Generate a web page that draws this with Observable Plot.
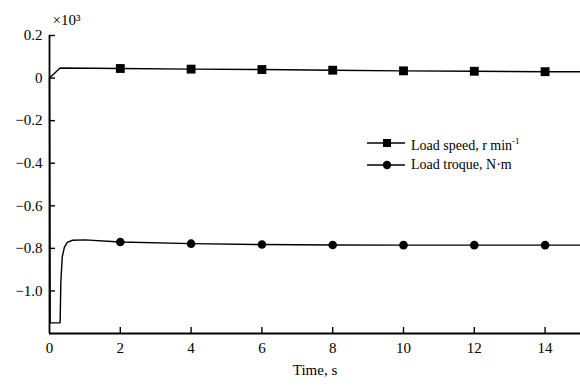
<!DOCTYPE html>
<html>
<head>
<meta charset="utf-8">
<script src="https://cdn.jsdelivr.net/npm/d3@7"></script>
<script src="https://cdn.jsdelivr.net/npm/@observablehq/plot@0.6"></script>
<style>
  body { margin: 0; background: #fff; }
  #chart { position: relative; width: 580px; height: 387px; font-family: "Liberation Serif", "DejaVu Serif", serif; color: #000; }
  #chart svg text { font-family: "Liberation Serif", "DejaVu Serif", serif; }
  #legend { position: absolute; left: 366px; top: 132px; font-size: 14px; line-height: 22px; }
  #legend .row { display: flex; align-items: center; height: 22px; }
  #legend svg { margin-right: 5px; }
  #legend sup { font-size: 9px; vertical-align: 6px; }
</style>
</head>
<body>
<div id="chart"><div id="legend"></div></div>
<script>
// Load speed trace (×10³ r/min) over time (s)
const speedTime  = [0, 0.3, 2, 4, 6, 8, 10, 12, 14, 15];
const speedValue = [0, 0.047, 0.045, 0.042, 0.040, 0.037, 0.034, 0.032, 0.030, 0.030];

// Load torque trace (×10³ N·m) over time (s)
const torqueTime  = [0, 0.02, 0.3, 0.32, 0.36, 0.42, 0.5, 0.65, 1.0, 2, 4, 6, 8, 10, 12, 14, 15];
const torqueValue = [0, -1.15, -1.15, -0.96, -0.84, -0.795, -0.772, -0.762, -0.76, -0.77, -0.778, -0.782, -0.784, -0.785, -0.785, -0.785, -0.785];

// Times at which the series carry a marker
const markerTimes = [2, 4, 6, 8, 10, 12, 14];

// Axis ticks
const xTicks = [0, 2, 4, 6, 8, 10, 12, 14];
const yTicks = [0.2, 0, -0.2, -0.4, -0.6, -0.8, -1.0];

const seriesNames = ["Load speed, r min", "Load troque, N·m"];

const speed  = speedTime.map((t, i) => ({t, v: speedValue[i]}));
const torque = torqueTime.map((t, i) => ({t, v: torqueValue[i]}));
const atMarker = d => markerTimes.includes(d.t);

const yFormat = d => d === 0 ? "0" : d.toFixed(1).replace("-", "\u2212");

const W = 580, H = 387, ML = 49, MR = 0, MT = 35, MB = 54;
const xDomain = [0, 15], yDomain = [-1.2, 0.2];
const TICK = 6; // inward tick length in px
// tick lengths expressed in data units of each axis
const xTickLen = TICK * (xDomain[1] - xDomain[0]) / (W - ML - MR);
const yTickLen = TICK * (yDomain[1] - yDomain[0]) / (H - MT - MB);

const plot = Plot.plot({
  width: W,
  height: H,
  marginLeft: ML,
  marginRight: MR,
  marginTop: MT,
  marginBottom: MB,
  style: {fontSize: "15px", color: "#000", background: "#fff"},
  x: {domain: xDomain},
  y: {domain: yDomain},
  marks: [
    Plot.axisX({ticks: xTicks, tickSize: 0, tickPadding: 9, tickFormat: d => String(d), fontSize: 15, label: null}),
    Plot.axisY({ticks: yTicks, tickSize: 0, tickPadding: 7, tickFormat: yFormat, fontSize: 15, label: null}),
    // inward tick marks
    Plot.ruleX(xTicks.filter(d => d > 0), {x: d => d, y1: yDomain[0], y2: yDomain[0] + yTickLen, stroke: "#000", strokeWidth: 1.4}),
    Plot.ruleY(yTicks, {y: d => d, x1: xDomain[0], x2: xDomain[0] + xTickLen, stroke: "#000", strokeWidth: 1.4}),
    // axis lines
    Plot.ruleX([xDomain[0]], {y1: yDomain[0], y2: yDomain[1], strokeWidth: 1.8}),
    Plot.ruleY([yDomain[0]], {strokeWidth: 1.8}),
    // series
    Plot.line(speed, {x: "t", y: "v", stroke: "#000", strokeWidth: 1.4}),
    Plot.line(torque, {x: "t", y: "v", stroke: "#000", strokeWidth: 1.4}),
    Plot.dot(speed.filter(atMarker), {x: "t", y: "v", symbol: "square", r: 5, fill: "#000"}),
    Plot.dot(torque.filter(atMarker), {x: "t", y: "v", symbol: "circle", r: 4.3, fill: "#000"}),
    Plot.text(["×10³"], {frameAnchor: "top-left", dx: 3, dy: -21, textAnchor: "start", fontSize: 15}),
    Plot.text(["Time, s"], {frameAnchor: "bottom", dy: 41, fontSize: 15})
  ]
});
document.getElementById("chart").prepend(plot);

// Legend with line-and-marker samples
const legend = d3.select("#legend");
seriesNames.forEach((name, i) => {
  const row = legend.append("div").attr("class", "row");
  const svg = row.append("svg").attr("width", 40).attr("height", 12);
  svg.append("line").attr("x1", 1).attr("x2", 39).attr("y1", 6).attr("y2", 6)
     .attr("stroke", "#000").attr("stroke-width", 1.4);
  if (i === 0) {
    svg.append("rect").attr("x", 17).attr("y", 2).attr("width", 8).attr("height", 8).attr("fill", "#000");
  } else {
    svg.append("circle").attr("cx", 21).attr("cy", 6).attr("r", 4.2).attr("fill", "#000");
  }
  const label = row.append("span").text(name);
  if (i === 0) label.append("sup").text("-1");
});
</script>
</body>
</html>
